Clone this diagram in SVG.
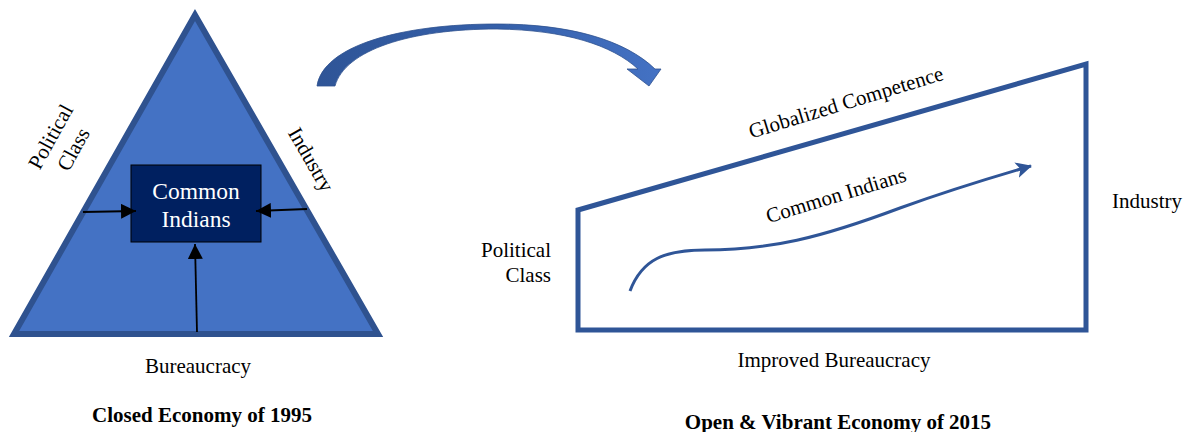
<svg xmlns="http://www.w3.org/2000/svg" width="1189" height="432" viewBox="0 0 1189 432">
  <style>
    .lbl { font-family: "Liberation Serif", "Times New Roman", serif; font-size: 21px; fill: #000; }
    .ttl { font-family: "Liberation Serif", "Times New Roman", serif; font-size: 21px; font-weight: bold; fill: #000; }
    .box-txt { font-family: "Liberation Serif", "Times New Roman", serif; font-size: 23.5px; fill: #fff; }
    .push { stroke: #000; stroke-width: 1.8; fill: none; marker-end: url(#tip-black); }
  </style>
  <defs>
    <marker id="tip-black" viewBox="0 0 15 15" refX="15" refY="7.5" markerWidth="15" markerHeight="15" markerUnits="userSpaceOnUse" orient="auto">
      <path d="M0,0 L15,7.5 L0,15 z" fill="#000"/>
    </marker>
    <marker id="tip-blue" viewBox="0 0 16 16" refX="15" refY="8" markerWidth="16" markerHeight="16" markerUnits="userSpaceOnUse" orient="auto">
      <path d="M0,0 L16,8 L0,16 L4,8 z" fill="#2F5597"/>
    </marker>
    <linearGradient id="bend" x1="317" y1="0" x2="661" y2="0" gradientUnits="userSpaceOnUse">
      <stop offset="0" stop-color="#2F5597"/>
      <stop offset="0.55" stop-color="#3560AA"/>
      <stop offset="1" stop-color="#4472C4"/>
    </linearGradient>
  </defs>

  <!-- 1995: closed economy triangle -->
  <g id="closed-economy">
    <polygon points="195,15 14,334 378,334" fill="#4472C4" stroke="#2F528F" stroke-width="6" stroke-linejoin="miter"/>
  </g>

  <g id="common-indians-box">
    <rect x="131" y="165" width="130" height="77" fill="#002060" stroke="#000" stroke-width="1"/>
    <text class="box-txt" x="196" y="199" text-anchor="middle">Common</text>
    <text class="box-txt" x="196" y="227" text-anchor="middle">Indians</text>
  </g>

  <g id="label-political-class-1995" transform="translate(62,143) rotate(-61)">
    <text class="lbl" x="0" y="-6" text-anchor="middle">Political</text>
    <text class="lbl" x="0" y="20" text-anchor="middle">Class</text>
  </g>
  <g id="label-industry-1995" transform="translate(305,163) rotate(60)">
    <text class="lbl" x="0" y="0" text-anchor="middle">Industry</text>
  </g>
  <g id="label-bureaucracy-1995">
    <text class="lbl" x="198" y="373" text-anchor="middle">Bureaucracy</text>
  </g>
  <g id="title-1995">
    <text class="ttl" x="202" y="422" text-anchor="middle">Closed Economy of 1995</text>
  </g>

  <!-- 2015: open economy wedge -->
  <g id="open-economy">
    <path d="M578,210 L1086,64 L1086,330 L578,330 Z" fill="none" stroke="#2F5597" stroke-width="5" stroke-linejoin="miter"/>
  </g>
  <g id="label-globalized">
    <text class="lbl" x="0" y="0" text-anchor="middle" transform="translate(848,109) rotate(-17)">Globalized Competence</text>
  </g>
  <g id="label-common-indians-2015">
    <text class="lbl" x="0" y="0" text-anchor="middle" transform="translate(838,202) rotate(-17)">Common Indians</text>
  </g>
  <g id="label-industry-2015">
    <text class="lbl" x="1147" y="208" text-anchor="middle">Industry</text>
  </g>
  <g id="label-political-class-2015">
    <text class="lbl" x="551" y="257" text-anchor="end">Political</text>
    <text class="lbl" x="551" y="282" text-anchor="end">Class</text>
  </g>
  <g id="label-bureaucracy-2015">
    <text class="lbl" x="834" y="367" text-anchor="middle">Improved Bureaucracy</text>
  </g>
  <g id="title-2015">
    <text class="ttl" x="838" y="429" text-anchor="middle">Open &amp; Vibrant Economy of 2015</text>
  </g>

  <!-- connectors -->
  <g id="connectors">
    <line class="push" x1="83" y1="212" x2="136" y2="211"/>
    <line class="push" x1="307" y1="209" x2="256" y2="211"/>
    <line class="push" x1="197" y1="332" x2="195" y2="244"/>
    <path d="M630,291 C642,259 665,250 705,250 C770,250 820,238 900,208 C950,190 1000,175 1031,166" fill="none" stroke="#2F5597" stroke-width="3" marker-end="url(#tip-blue)"/>
    <path d="M317,86 C323,46 400,24 497,24 C570,24 625,40 655,69 L661,69 L649,86 L627,69 L638,69 C612,45 565,30 497,29 C410,29 345,50 335,86 Z" fill="url(#bend)" stroke="#2F528F" stroke-width="0.8"/>
  </g>
</svg>
